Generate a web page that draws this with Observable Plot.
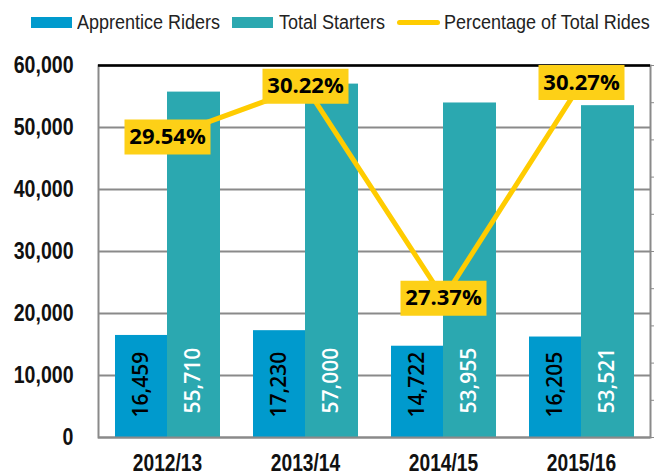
<!DOCTYPE html>
<html>
<head>
<meta charset="utf-8">
<script src="https://cdn.jsdelivr.net/npm/d3@7"></script>
<script src="https://cdn.jsdelivr.net/npm/@observablehq/plot@0.6"></script>
<style>
  body { margin: 0; background: #fff; }
  #wrap { width: 663px; position: relative; }
  #legend { position: relative; height: 40px; width: 663px;
    font-family: "Liberation Sans", Arial, sans-serif; font-size: 20px; color: #222; }
  .sw { position: absolute; }
  .lt { position: absolute; top: 11px; line-height: 22px; white-space: nowrap;
    transform: scaleX(0.9); transform-origin: 0 50%; }
</style>
</head>
<body>
<div id="wrap">
  <div id="legend">
    <div class="sw" style="left:31px;top:17px;width:41px;height:11px;background:#009ACD"></div>
    <div class="lt" style="left:77px">Apprentice Riders</div>
    <div class="sw" style="left:232px;top:17px;width:41px;height:11px;background:#2BA8B0"></div>
    <div class="lt" style="left:279px">Total Starters</div>
    <div class="sw" style="left:397px;top:20px;width:43px;height:5px;border-radius:3px;background:#FFCC00"></div>
    <div class="lt" style="left:444px">Percentage of Total Rides</div>
  </div>
  <div id="chart"></div>
</div>
<script>
const years = ["2012/13", "2013/14", "2014/15", "2015/16"];
const apprenticeRiders = [16459, 17230, 14722, 16205];
const totalStarters = [55710, 57000, 53955, 53521];
const pctTotalRides = [29.54, 30.22, 27.37, 30.27];
const yTicks = [0, 10000, 20000, 30000, 40000, 50000, 60000];
const pctTicks = [25.5, 26, 26.5, 27, 27.5, 28, 28.5, 29, 29.5, 30, 30.5];

// secondary axis (25.5% .. 30.5%) mapped onto the primary y domain (0 .. 60,000)
const pctMin = pctTicks[0], pctMax = pctTicks[pctTicks.length - 1];
const yMax = yTicks[yTicks.length - 1];
const pctToY = p => (p - pctMin) / (pctMax - pctMin) * yMax;

const data = years.map((year, i) => ({
  year,
  apprentice: apprenticeRiders[i],
  total: totalStarters[i],
  pct: pctTotalRides[i]
}));

const fmt = d3.format(",");
const axisFont = '"Liberation Sans", Arial, sans-serif';
const labelFont = '"Open Sans", "Noto Sans", sans-serif';

// label box symbol (fixed-size rectangle)
const boxSymbol = { draw(ctx) { ctx.rect(-43, -17.5, 86, 35); } };

const chart = Plot.plot({
  width: 663,
  height: 435,
  marginTop: 25,
  marginBottom: 38,
  marginLeft: 98,
  marginRight: 13,
  x: { domain: years, padding: 0 },
  y: { domain: [0, yMax] },
  marks: [
    Plot.gridY(yTicks, { stroke: "#8a8a8a", strokeOpacity: 1, strokeWidth: 2 }),
    Plot.barY(data, { x: "year", y: "apprentice", fill: "#009ACD", insetLeft: 17, insetRight: 69 }),
    Plot.barY(data, { x: "year", y: "total", fill: "#2BA8B0", insetLeft: 69, insetRight: 16 }),
    Plot.frame({ stroke: "#8a8a8a", strokeWidth: 2 }),
    Plot.ruleY([yMax], { stroke: "#000", strokeWidth: 2.5 }),
    Plot.axisY(yTicks, {
      anchor: "left", tickSize: 0, tickPadding: 25, tickFormat: fmt, label: null,
      fontSize: 23, fontWeight: "bold", fontFamily: axisFont, fill: "#111"
    }),
    Plot.axisY(pctTicks.map(pctToY), {
      anchor: "right", tickSize: 3, tickFormat: () => "", label: null, stroke: "#8a8a8a"
    }),
    Plot.axisX({
      tickSize: 0, tickPadding: 16, label: null,
      fontSize: 24, fontWeight: "bold", fontFamily: axisFont, fill: "#111"
    }),
    Plot.text(data, {
      x: "year", y: 0, text: d => fmt(d.apprentice), rotate: -90, textAnchor: "start",
      dx: -26, dy: -20, fontSize: 21, fontWeight: 600, fontFamily: labelFont, fill: "#000"
    }),
    Plot.text(data, {
      x: "year", y: 0, text: d => fmt(d.total), rotate: -90, textAnchor: "start",
      dx: 26, dy: -24, fontSize: 21, fontWeight: 600, fontFamily: labelFont, fill: "#fff"
    }),
    Plot.line(data, { x: "year", y: d => pctToY(d.pct), stroke: "#FFCC00", strokeWidth: 5 }),
    Plot.dot(data, { x: "year", y: d => pctToY(d.pct), symbol: boxSymbol, r: 10, fill: "#FDD017", stroke: null }),
    Plot.text(data, {
      x: "year", y: d => pctToY(d.pct), text: d => d.pct.toFixed(2) + "%",
      fontSize: 22, fontWeight: 700, fontFamily: labelFont, fill: "#000"
    })
  ]
});

// condense the axis tick labels horizontally (narrow typeface look)
function condense(selector, k) {
  chart.querySelectorAll(selector).forEach(t => {
    let tr = t.getAttribute("transform");
    if (!tr) {
      const x = t.getAttribute("x") || 0, y = t.getAttribute("y") || 0;
      t.removeAttribute("x"); t.removeAttribute("y");
      tr = `translate(${x},${y})`;
    }
    t.setAttribute("transform", `${tr} scale(${k},1)`);
  });
}
condense('g[aria-label="y-axis tick label"] text', 0.85);
condense('g[aria-label="x-axis tick label"] text', 0.8);

document.getElementById("chart").appendChild(chart);
</script>
</body>
</html>
